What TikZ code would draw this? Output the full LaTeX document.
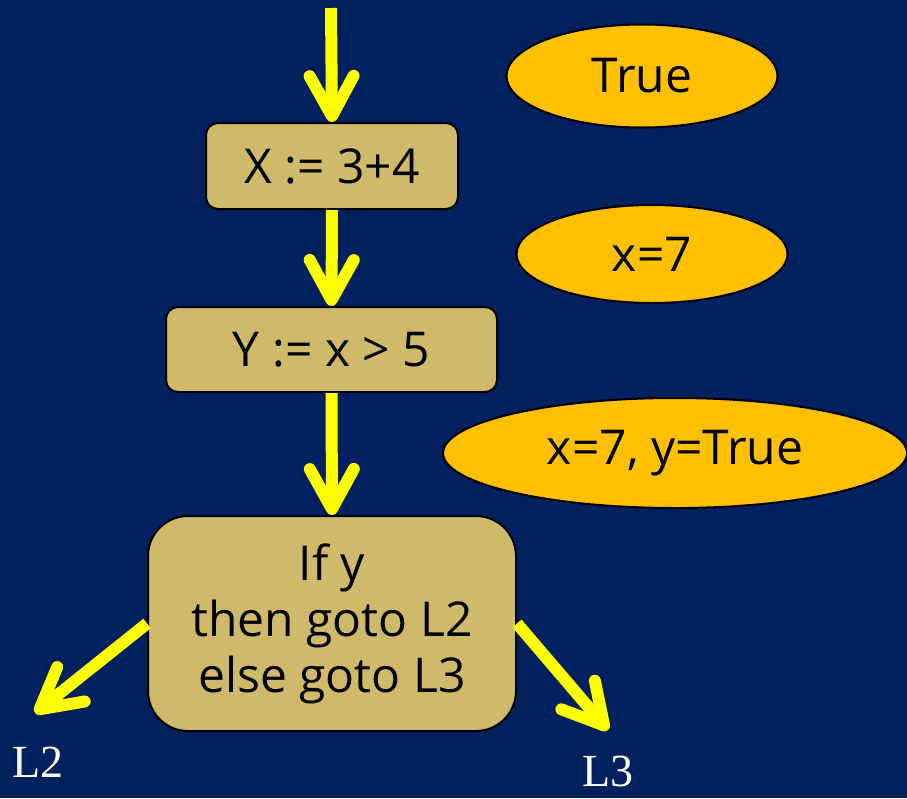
\documentclass[tikz,border=0pt]{standalone}
\usepackage{fontspec}
\setmainfont{Open Sans}
\newfontfamily\labelfont{Liberation Serif}
\usetikzlibrary{arrows.meta,shapes.geometric}
\definecolor{bg}{RGB}{0,32,94}
\definecolor{boxfill}{RGB}{207,185,106}
\definecolor{ovalfill}{RGB}{255,192,0}
\definecolor{flow}{RGB}{255,255,0}
\begin{document}
\begin{tikzpicture}[x=1pt,y=-1pt,
  stmt/.style={draw=black,line width=2pt,fill=boxfill,rounded corners=12pt,
    inner sep=0pt,align=center,font=\fontsize{48}{56}\selectfont},
  fact/.style={ellipse,draw=black,line width=2pt,fill=ovalfill,inner sep=0pt,
    font=\fontsize{48}{56}\selectfont},
  flowarrow/.style={draw=flow,line width=12pt,
    -{Straight Barb[length=40pt,width=44pt,round]}},
  exitlabel/.style={text=white,inner sep=0pt,font=\labelfont\fontsize{46}{50}\selectfont}]

% background
\fill[bg] (0,0) rectangle (907,798);
\useasboundingbox (0,0) rectangle (907,798);

% statements
\node[stmt,minimum width=252pt,minimum height=86pt] (s1) at (332,166) {X := 3+4};
\node[stmt,minimum width=331pt,minimum height=85pt] (s2) at (331.5,349.5) {Y := x > 5};
\node[stmt,rounded corners=40pt,minimum width=368pt,minimum height=215pt] (s3) at (332,623.5)
  {If y\\then goto L2\\else goto L3};

% facts known after each statement
\node[fact,minimum width=271pt,minimum height=103pt] (f0) at (642,76) {True};
\node[fact,minimum width=271pt,minimum height=98pt] (f1) at (652,254) {x=7};
\node[fact,minimum width=464pt,minimum height=110pt] (f2) at (675,453) {x=7, y=True};

% branch targets
\node[exitlabel] (l2) at (38,762) {L2};
\node[exitlabel] (l3) at (608,771) {L3};

% control flow
\coordinate (entry) at (331,8);
\coordinate (t2) at (35,713);
\coordinate (t3) at (608,730);
\draw[flowarrow] (entry) -- (s1.north);
\draw[flowarrow] (s1.south) -- (s2.north);
\draw[flowarrow] (s2.south) -- (s3.north);
\draw[flowarrow] (s3.west) -- (t2);
\draw[flowarrow] (s3.east) -- (t3);
\end{tikzpicture}
\end{document}
